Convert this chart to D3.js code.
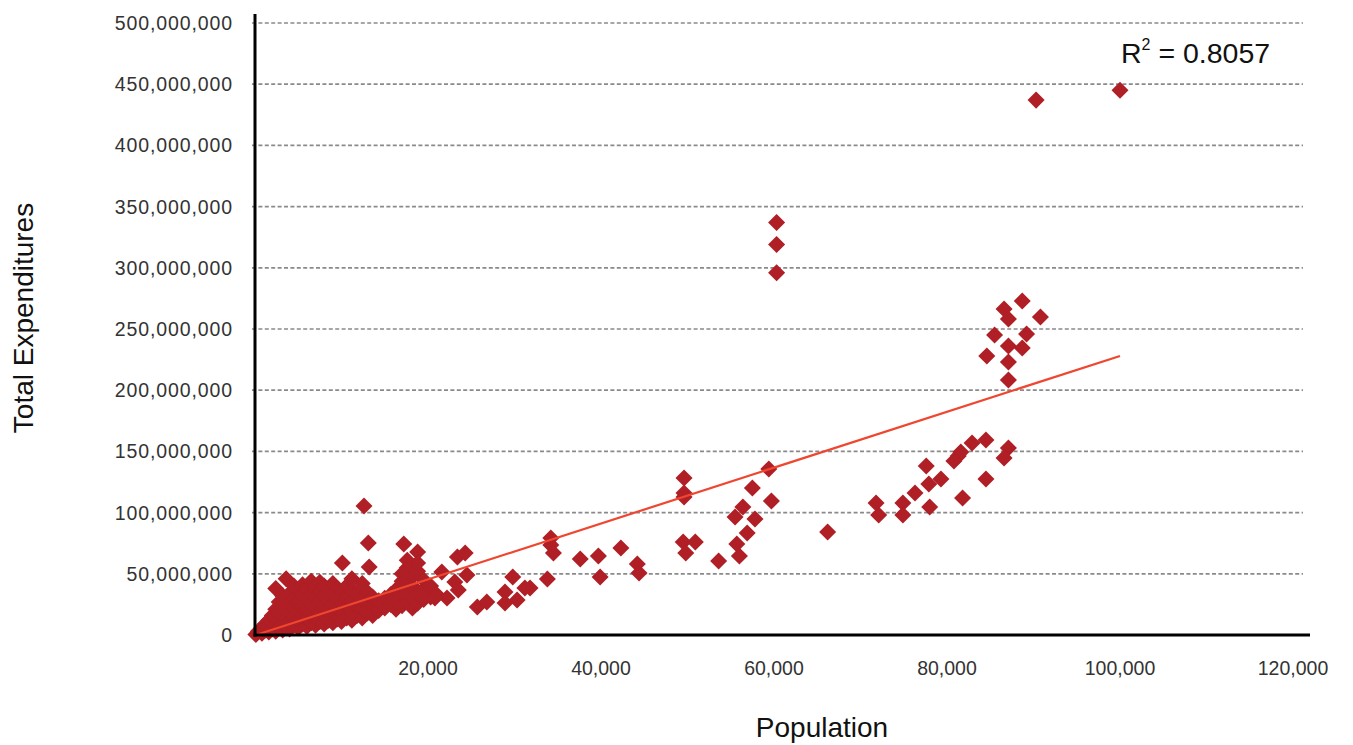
<!DOCTYPE html>
<html>
<head>
<meta charset="utf-8">
<script src="https://cdn.jsdelivr.net/npm/d3@7"></script>
<style>
  body { margin: 0; background: #fff; }
  svg text { font-family: "Liberation Sans", Arial, sans-serif; }
</style>
</head>
<body>
<svg id="chart" width="1353" height="745"></svg>
<script>
// ---- DATA (population in thousands, expenditures in millions) ----
const outliers = [[100.0,445],[90.3,437],[60.3,337],[60.3,319],[60.3,296]];

const largeCities = [
  [88.7,272.9],[86.6,266.3],[87.1,258.2],[90.8,259.8],[85.5,245.1],[89.2,245.9],[87.1,236.1],
  [88.7,234.5],[84.6,227.9],[87.1,223.0],[87.1,208.3],
  [84.5,159.3],[82.9,156.9],[81.6,149.5],[81.3,146.2],[80.8,142.2],[87.1,152.8],[86.6,144.6],
  [77.6,138.1],[79.3,127.5],[77.9,123.4],[76.3,116.0],[84.5,127.5],[81.8,111.9],[74.9,107.8],
  [71.8,107.8],[72.1,98.0],[74.9,98.0],[78.0,104.6],[66.2,84.2]
];

const midCities = [
  [59.4,135.6],[57.5,120.1],[59.7,109.5],[56.4,104.6],[55.5,96.4],[57.8,94.8],[56.9,83.3],
  [55.7,74.3],[56.0,64.5],[53.6,60.5],[49.6,128.3],[49.6,116.0],[49.6,112.7],[49.5,76.0],
  [50.9,76.0],[49.8,67.0],[34.2,79.2],[34.2,73.5],[34.5,67.0],[33.8,45.8],[37.6,62.1],
  [39.7,64.5],[39.9,47.4],[42.3,71.1],[44.2,58.0],[44.4,50.7],[31.8,38.4],
  [18.8,67.8],[18.8,58.8],[23.4,63.7],[24.3,67.0],[21.6,51.5],[24.5,49.0],[23.1,43.3],
  [23.5,36.8],[22.2,30.2],[20.8,30.2],[25.7,22.9],[26.8,27.0],[29.8,47.4],[31.2,38.4],
  [28.9,35.1],[30.3,28.6],[28.9,26.1]
];

const smallTowns = [
  [12.6,105.4],[13.1,75.2],[13.2,55.6],[17.2,74.3],[10.1,58.8],
  [0.1,0.5],[0.4,3],[0.8,1.5],[0.8,6],[1.2,4],[1.2,9],[1.6,2.5],[1.6,7],[1.6,12],
  [2.0,5],[2.0,10],[2.0,16],[2.4,3],[2.4,8],[2.4,14],[2.4,21],[2.4,38],
  [2.8,6],[2.8,12],[2.8,18],[2.8,27],[3.2,4],[3.2,9],[3.2,15],[3.2,23],[3.2,32],
  [3.6,7],[3.6,13],[3.6,20],[3.6,29],[3.6,46],[4.0,5],[4.0,11],[4.0,18],[4.0,26],[4.0,34],
  [4.5,8],[4.5,15],[4.5,22],[4.5,30],[4.5,40],[5.0,6],[5.0,12],[5.0,19],[5.0,27],[5.0,36],
  [5.5,9],[5.5,16],[5.5,24],[5.5,33],[5.5,41],[6.0,7],[6.0,13],[6.0,21],[6.0,29],[6.0,38],
  [6.5,10],[6.5,17],[6.5,25],[6.5,34],[6.5,44],[7.0,8],[7.0,14],[7.0,22],[7.0,31],[7.0,39],
  [7.5,11],[7.5,18],[7.5,27],[7.5,35],[7.5,43],[8.0,9],[8.0,16],[8.0,24],[8.0,32],[8.0,40],
  [8.5,12],[8.5,20],[8.5,28],[8.5,36],[9.0,10],[9.0,17],[9.0,25],[9.0,33],[9.0,42],
  [9.5,13],[9.5,21],[9.5,30],[9.5,38],[10.0,11],[10.0,19],[10.0,27],[10.0,35],
  [10.6,14],[10.6,22],[10.6,31],[10.6,40],[11.2,12],[11.2,20],[11.2,28],[11.2,37],[11.2,46],
  [11.8,16],[11.8,24],[11.8,33],[12.4,14],[12.4,22],[12.4,30],[12.4,42],
  [13.0,18],[13.0,26],[13.0,35],[13.6,16],[13.6,24],[13.6,31],[14.3,20],[14.3,28],
  [15.0,22],[15.0,30],[15.7,25],[15.7,33],[16.3,21],[16.3,29],[16.3,37],
  [17.0,24],[17.0,32],[17.0,44],[17.0,50],[17.6,27],[17.6,35],[17.6,55],[17.6,61],
  [18.2,22],[18.2,30],[18.2,40],[18.2,48],[18.8,26],[18.8,34],[18.8,52],
  [19.5,29],[19.5,37],[19.5,45],[20.3,31],[20.3,40],[21.0,33]
];

// linear trendline: exp = slope * pop + intercept
const trendSlope = 2.282;
const trendIntercept = -0.2;
const rSquared = '0.8057';

const xTicks = [20, 40, 60, 80, 100, 120];
const yTicks = [0, 50, 100, 150, 200, 250, 300, 350, 400, 450, 500];

// ---- CHART ----
const svg = d3.select('#chart');
const x = d3.scaleLinear().domain([0, 120]).range([255, 1293]);
const y = d3.scaleLinear().domain([0, 500]).range([635, 23]);

const fmt = d3.format(',');

// gridlines
svg.append('g').selectAll('line')
  .data(yTicks.filter(d => d > 0))
  .join('line')
  .attr('x1', 252).attr('x2', 1303)
  .attr('y1', d => y(d)).attr('y2', d => y(d))
  .attr('stroke', '#8a8a8a')
  .attr('stroke-width', 1.7)
  .attr('stroke-dasharray', '4,2.4');

// y tick labels
svg.append('g').selectAll('text')
  .data(yTicks)
  .join('text')
  .attr('x', 233)
  .attr('y', d => y(d))
  .attr('dy', '0.36em')
  .attr('text-anchor', 'end')
  .attr('font-size', 19.5)
  .attr('letter-spacing', 0.9)
  .attr('fill', '#333')
  .text(d => fmt(d * 1e6));

// x tick labels
svg.append('g').selectAll('text')
  .data(xTicks)
  .join('text')
  .attr('x', d => x(d))
  .attr('y', 675)
  .attr('text-anchor', 'middle')
  .attr('font-size', 19.5)
  .attr('fill', '#333')
  .text(d => fmt(d * 1000));

// points
const allPoints = [...smallTowns, ...midCities, ...largeCities, ...outliers];
const diamond = d3.symbol(d3.symbolSquare, 145);
svg.append('g').selectAll('path')
  .data(allPoints)
  .join('path')
  .attr('d', diamond)
  .attr('transform', d => `translate(${x(d[0])},${y(d[1])}) rotate(45)`)
  .attr('fill', '#b01f25');

// trendline
const popExtent = d3.extent(allPoints, d => d[0]);
svg.append('line')
  .attr('x1', x(popExtent[0])).attr('y1', y(trendSlope * popExtent[0] + trendIntercept))
  .attr('x2', x(popExtent[1])).attr('y2', y(trendSlope * popExtent[1] + trendIntercept))
  .attr('stroke', '#ef4630')
  .attr('stroke-width', 2.2);

// axes lines
svg.append('line')
  .attr('x1', 255).attr('x2', 255).attr('y1', 14).attr('y2', 636.5)
  .attr('stroke', '#000').attr('stroke-width', 3);
svg.append('line')
  .attr('x1', 253.5).attr('x2', 1310).attr('y1', 635).attr('y2', 635)
  .attr('stroke', '#000').attr('stroke-width', 3);

// R squared label
const r2 = svg.append('text')
  .attr('x', 1121).attr('y', 63)
  .attr('font-size', 28.5)
  .attr('fill', '#111');
r2.append('tspan').text('R');
r2.append('tspan').attr('font-size', 16).attr('dy', -13).text('2');
r2.append('tspan').attr('dy', 13).text(' = ' + rSquared);

// axis titles
svg.append('text')
  .attr('x', 822).attr('y', 737)
  .attr('text-anchor', 'middle')
  .attr('font-size', 28)
  .attr('fill', '#111')
  .text('Population');

svg.append('text')
  .attr('transform', 'translate(33,318) rotate(-90)')
  .attr('text-anchor', 'middle')
  .attr('font-size', 28)
  .attr('fill', '#111')
  .text('Total Expenditures');
</script>
</body>
</html>
